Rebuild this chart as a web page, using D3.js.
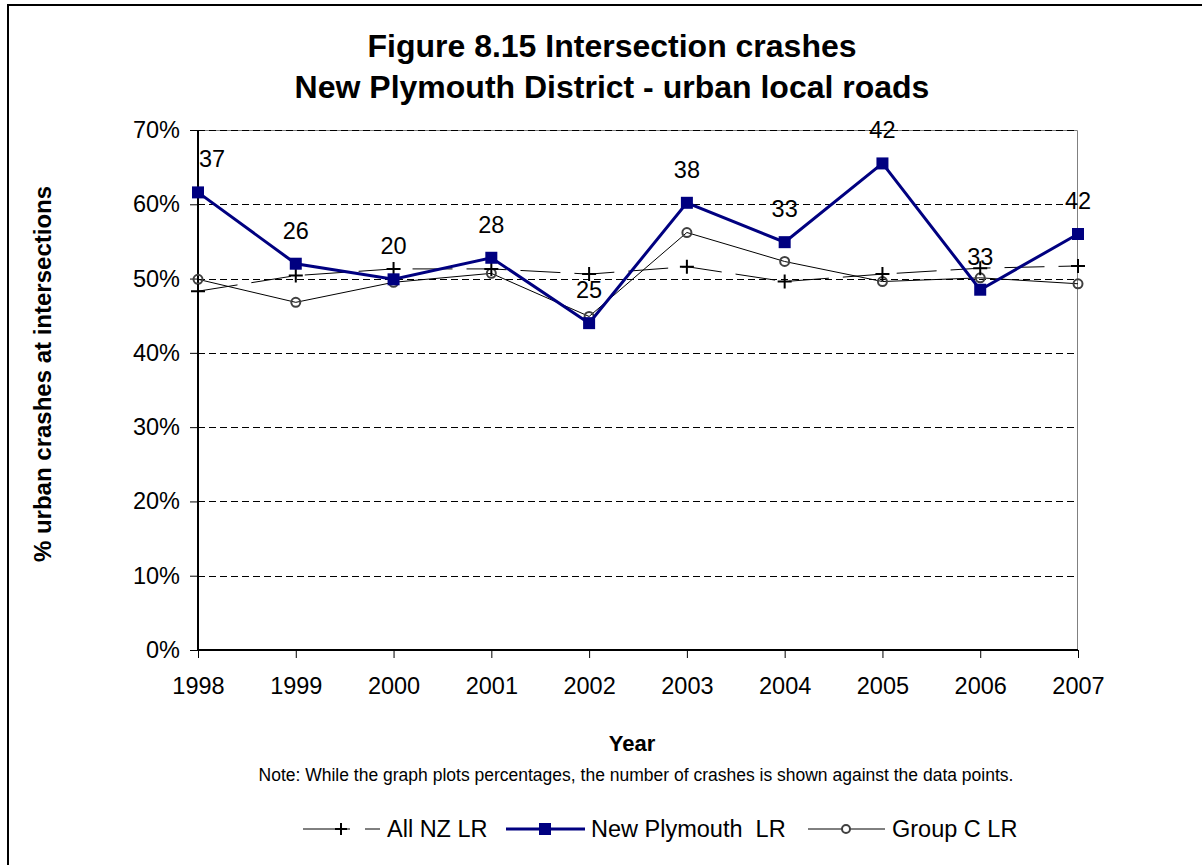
<!DOCTYPE html>
<html>
<head>
<meta charset="utf-8">
<script src="https://cdn.jsdelivr.net/npm/d3@7"></script>
<style>
  body { margin: 0; background: #fff; }
  svg { display: block; font-family: Arial, "Liberation Sans", sans-serif; }
</style>
</head>
<body>
<div id="chart"></div>
<script>
// data
const years = ['1998', '1999', '2000', '2001', '2002', '2003', '2004', '2005', '2006', '2007'];
const allNZ = [48.3, 50.4, 51.3, 51.3, 50.6, 51.6, 49.6, 50.6, 51.4, 51.7];
const newPlymouth = [61.6, 52.0, 49.9, 52.8, 44.0, 60.2, 54.9, 65.5, 48.5, 56.0];
const groupC = [49.9, 46.8, 49.5, 50.7, 44.9, 56.2, 52.3, 49.6, 50.1, 49.3];
const crashCounts = [37, 26, 20, 28, 25, 38, 33, 42, 33, 42];
const yTicks = [0, 10, 20, 30, 40, 50, 60, 70];

const W = 1202, H = 865;
const margin = { top: 130, left: 198, right: 124, bottom: 215 };
const pw = W - margin.left - margin.right, ph = H - margin.top - margin.bottom;
const FONT = 'Arial, "Liberation Sans", sans-serif';

const svg = d3.select('#chart').append('svg').attr('width', W).attr('height', H);

// outer chart border (runs off the right/bottom of the picture)
svg.append('rect')
  .attr('x', 8).attr('y', 5).attr('width', W + 20).attr('height', H + 20)
  .attr('fill', 'none').attr('stroke', '#000').attr('stroke-width', 2);

const x = d3.scalePoint().domain(years).range([0, pw]);
const y = d3.scaleLinear().domain([0, 70]).range([ph, 0]);

const g = svg.append('g').attr('transform', `translate(${margin.left},${margin.top})`);

// plot area frame (top + right, grey)
g.append('path')
  .attr('d', `M0,0.5H${pw - 0.5}V${ph}`)
  .attr('fill', 'none').attr('stroke', '#808080').attr('stroke-width', 1);

// dashed gridlines
g.selectAll('.grid').data(yTicks.filter(d => d > 0)).enter()
  .append('line')
  .attr('x1', 0).attr('x2', pw)
  .attr('y1', d => Math.round(y(d)) + 0.5).attr('y2', d => Math.round(y(d)) + 0.5)
  .attr('stroke', '#000').attr('stroke-width', 1)
  .attr('stroke-dasharray', '7,4');

// y axis
const yAxis = g.append('g')
  .call(d3.axisLeft(y).tickValues(yTicks).tickSize(8).tickPadding(10).tickFormat(d => d + '%'));
yAxis.select('.domain').attr('stroke-width', 2).attr('d', `M0,0V${ph}`);
yAxis.selectAll('.tick text').attr('font-size', 23.5).attr('fill', '#000').attr('font-family', FONT);

// x axis
const xAxis = g.append('g').attr('transform', `translate(0,${ph})`)
  .call(d3.axisBottom(x).tickSize(8).tickPadding(19));
xAxis.select('.domain').attr('stroke-width', 2).attr('d', `M0,0H${pw}`);
xAxis.selectAll('.tick text').attr('font-size', 23.5).attr('fill', '#000').attr('font-family', FONT);

const line = d3.line().x((d, i) => x(years[i])).y(d => y(d));

// Group C LR
g.append('path').datum(groupC).attr('d', line)
  .attr('fill', 'none').attr('stroke', '#000').attr('stroke-width', 1);
g.selectAll('.gc').data(groupC).enter().append('circle')
  .attr('cx', (d, i) => x(years[i])).attr('cy', d => y(d)).attr('r', 4.5)
  .attr('fill', 'none').attr('stroke', '#404040').attr('stroke-width', 2);

// All NZ LR
g.append('path').datum(allNZ).attr('d', line)
  .attr('fill', 'none').attr('stroke', '#000').attr('stroke-width', 1)
  .attr('stroke-dasharray', '40,14');
g.selectAll('.nz').data(allNZ).enter().append('path')
  .attr('transform', (d, i) => `translate(${x(years[i])},${y(d)})`)
  .attr('d', 'M-7,0H7M0,-7V7').attr('stroke', '#000').attr('stroke-width', 2);

// New Plymouth LR
g.append('path').datum(newPlymouth).attr('d', line)
  .attr('fill', 'none').attr('stroke', '#000080').attr('stroke-width', 3);
g.selectAll('.np').data(newPlymouth).enter().append('rect')
  .attr('x', (d, i) => x(years[i]) - 6).attr('y', d => y(d) - 6)
  .attr('width', 12).attr('height', 12).attr('fill', '#000080');

// crash count labels
g.selectAll('.lbl').data(crashCounts).enter().append('text')
  .attr('x', (d, i) => Math.max(x(years[i]), 14))
  .attr('y', (d, i) => y(newPlymouth[i]) - 25)
  .attr('text-anchor', 'middle').attr('font-size', 23.5).attr('fill', '#000')
  .text(d => d);

// titles
svg.append('text').attr('x', 612).attr('y', 57).attr('text-anchor', 'middle')
  .attr('font-size', 32).attr('font-weight', 'bold').text('Figure 8.15 Intersection crashes');
svg.append('text').attr('x', 612).attr('y', 98).attr('text-anchor', 'middle')
  .attr('font-size', 32).attr('font-weight', 'bold').text('New Plymouth District - urban local roads');

svg.append('text')
  .attr('transform', 'translate(51,374) rotate(-90)')
  .attr('text-anchor', 'middle').attr('font-size', 24).attr('font-weight', 'bold')
  .text('% urban crashes at intersections');

svg.append('text').attr('x', 632).attr('y', 751).attr('text-anchor', 'middle')
  .attr('font-size', 22).attr('font-weight', 'bold').text('Year');
svg.append('text').attr('x', 636).attr('y', 781).attr('text-anchor', 'middle')
  .attr('font-size', 17.5).text('Note: While the graph plots percentages, the number of crashes is shown against the data points.');

// legend
const ly = 829;
const leg = svg.append('g');
leg.append('line').attr('x1', 303).attr('x2', 350).attr('y1', ly).attr('y2', ly).attr('stroke', '#000');
leg.append('line').attr('x1', 365).attr('x2', 380).attr('y1', ly).attr('y2', ly).attr('stroke', '#000');
leg.append('path').attr('transform', `translate(341,${ly})`).attr('d', 'M-6,0H6M0,-6V6')
  .attr('stroke', '#000').attr('stroke-width', 2);
leg.append('text').attr('x', 387).attr('y', ly + 8).attr('font-size', 23.5).text('All NZ LR');

leg.append('line').attr('x1', 506).attr('x2', 585).attr('y1', ly).attr('y2', ly)
  .attr('stroke', '#000080').attr('stroke-width', 3);
leg.append('rect').attr('x', 539).attr('y', ly - 6).attr('width', 12).attr('height', 12).attr('fill', '#000080');
leg.append('text').attr('x', 591).attr('y', ly + 8).attr('font-size', 23.5)
  .attr('xml:space', 'preserve').style('white-space', 'pre').text('New Plymouth  LR');

leg.append('line').attr('x1', 808).attr('x2', 885).attr('y1', ly).attr('y2', ly).attr('stroke', '#000');
leg.append('circle').attr('cx', 846).attr('cy', ly).attr('r', 4)
  .attr('fill', '#fff').attr('stroke', '#404040').attr('stroke-width', 2);
leg.append('text').attr('x', 892).attr('y', ly + 8).attr('font-size', 23.5).text('Group C LR');
</script>
</body>
</html>
